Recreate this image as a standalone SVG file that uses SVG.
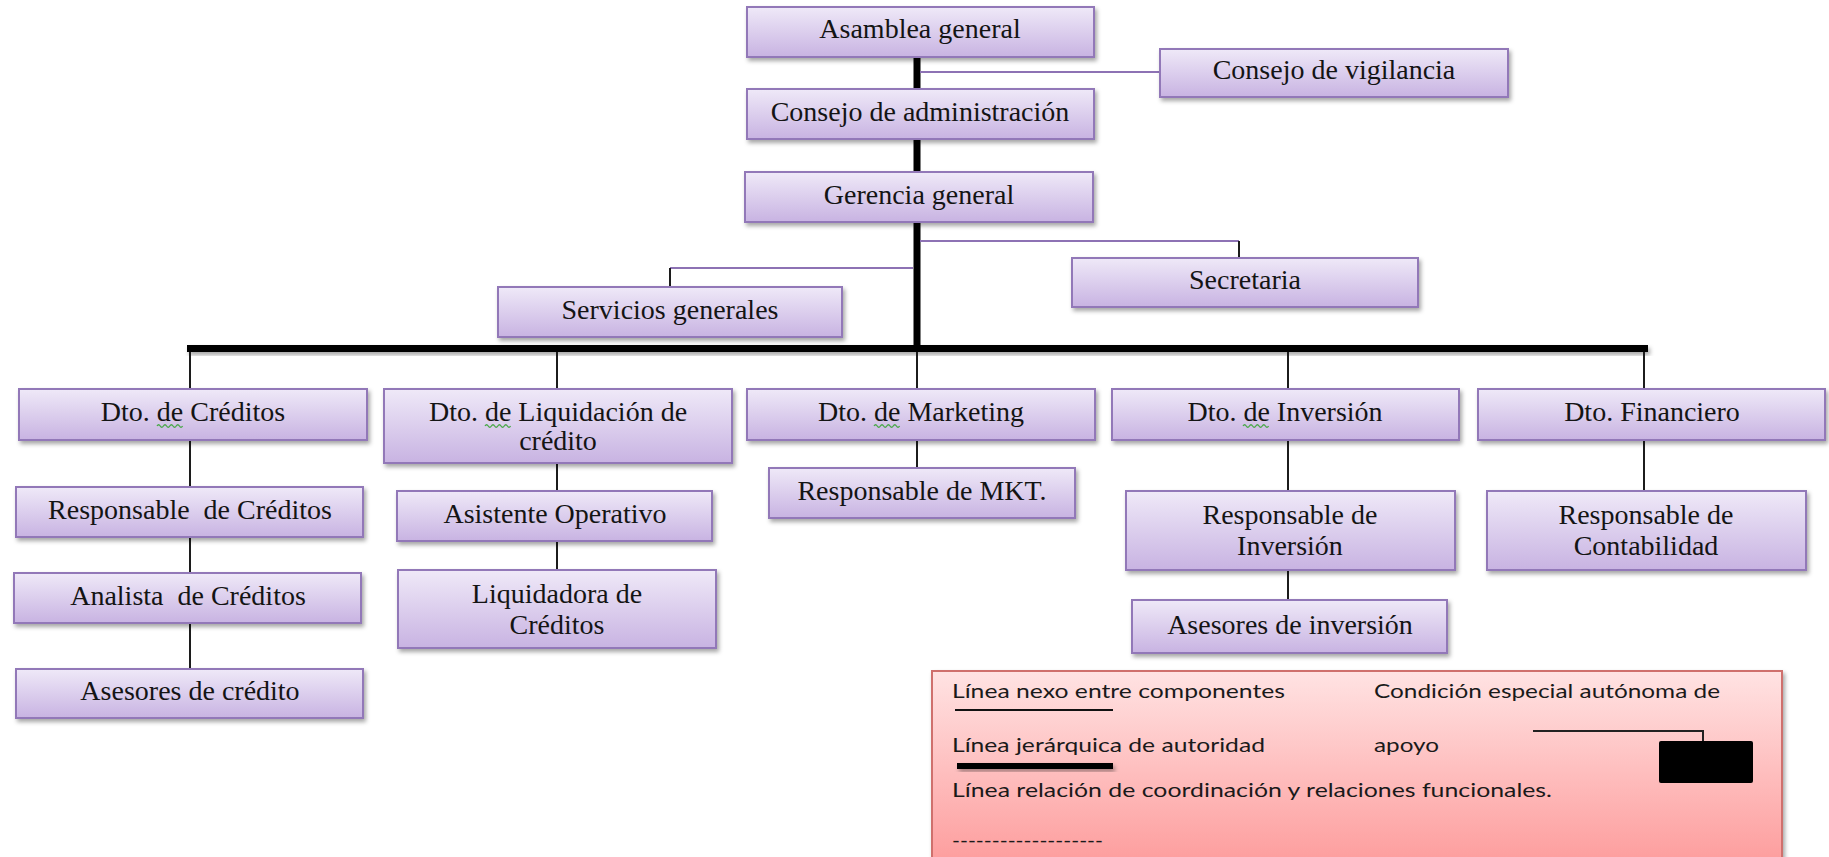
<svg xmlns="http://www.w3.org/2000/svg" width="1829" height="857" viewBox="0 0 1829 857">
<defs>
<linearGradient id="gBox" x1="0" y1="0" x2="0" y2="1">
<stop offset="0" stop-color="#efe9f8"/>
<stop offset="1" stop-color="#c8b3e2"/>
</linearGradient>
<linearGradient id="gLeg" x1="0" y1="0" x2="0" y2="1">
<stop offset="0" stop-color="#ffe3e3"/>
<stop offset="1" stop-color="#fd9a9a"/>
</linearGradient>
<filter id="sh" x="-10%" y="-50%" width="120%" height="200%">
<feDropShadow dx="2" dy="3" stdDeviation="2" flood-color="#000" flood-opacity="0.35"/>
</filter>
</defs>
<style>
.box{fill:url(#gBox);stroke:#9278b8;stroke-width:2;filter:url(#sh)}
.t{font-family:"Liberation Serif","Times New Roman",serif;font-size:28px;fill:#141414;text-anchor:middle;white-space:pre}
.wave{fill:none;stroke:#4aa84a;stroke-width:1.3}
.thick{stroke:#000;stroke-width:7;fill:none}
.thin{stroke:#1c1c1c;stroke-width:2;fill:none}
.purple{stroke:#8d72b4;stroke-width:2;fill:none}
.lt{font-family:Lato,"Liberation Sans",sans-serif;font-size:19px;fill:#1a1a1a}
</style>
<rect width="1829" height="857" fill="#fff"/>
<g id="connectors">
<line class="thick" x1="917" y1="57" x2="917" y2="349"/>
<rect x="187" y="345" width="1461" height="7" fill="#000" filter="url(#sh)"/>
<line class="purple" x1="920" y1="72" x2="1160" y2="72"/>
<line class="purple" x1="920" y1="241" x2="1239" y2="241"/>
<line class="thin" x1="1239" y1="241" x2="1239" y2="258"/>
<line class="purple" x1="913" y1="268" x2="670" y2="268"/>
<line class="thin" x1="670" y1="268" x2="670" y2="287"/>
<line class="thin" x1="190" y1="352" x2="190" y2="389"/>
<line class="thin" x1="557" y1="352" x2="557" y2="389"/>
<line class="thin" x1="917" y1="352" x2="917" y2="389"/>
<line class="thin" x1="1288" y1="352" x2="1288" y2="389"/>
<line class="thin" x1="1644" y1="352" x2="1644" y2="389"/>
<line class="thin" x1="190" y1="440" x2="190" y2="487"/>
<line class="thin" x1="190" y1="537" x2="190" y2="573"/>
<line class="thin" x1="190" y1="623" x2="190" y2="669"/>
<line class="thin" x1="557" y1="463" x2="557" y2="491"/>
<line class="thin" x1="557" y1="541" x2="557" y2="570"/>
<line class="thin" x1="917" y1="440" x2="917" y2="468"/>
<line class="thin" x1="1288" y1="440" x2="1288" y2="491"/>
<line class="thin" x1="1288" y1="570" x2="1288" y2="600"/>
<line class="thin" x1="1644" y1="440" x2="1644" y2="491"/>
</g>
<g id="asamblea"><rect class="box" x="747" y="7" width="347" height="50"/><text class="t" x="920" y="38">Asamblea general</text></g>
<g id="vigilancia"><rect class="box" x="1160" y="49" width="348" height="48"/><text class="t" x="1334" y="79">Consejo de vigilancia</text></g>
<g id="administracion"><rect class="box" x="747" y="89" width="347" height="50"/><text class="t" x="920" y="121">Consejo de administración</text></g>
<g id="gerencia"><rect class="box" x="745" y="172" width="348" height="50"/><text class="t" x="919" y="204">Gerencia general</text></g>
<g id="secretaria"><rect class="box" x="1072" y="258" width="346" height="49"/><text class="t" x="1245" y="289">Secretaria</text></g>
<g id="servicios"><rect class="box" x="498" y="287" width="344" height="50"/><text class="t" x="670" y="319">Servicios generales</text></g>
<g id="dto-creditos"><rect class="box" x="19" y="389" width="348" height="51"/><text class="t" x="193" y="421">Dto. de Créditos</text><path class="wave" d="M157,426 q1.6,-2.5 3.2,0 t3.2,0 t3.2,0 t3.2,0 t3.2,0 t3.2,0 t3.2,0 t3.2,0"/></g>
<g id="dto-liquidacion"><rect class="box" x="384" y="389" width="348" height="74"/><text class="t" x="558" y="421">Dto. de Liquidación de</text><text class="t" x="558" y="450">crédito</text><path class="wave" d="M485,426 q1.6,-2.5 3.2,0 t3.2,0 t3.2,0 t3.2,0 t3.2,0 t3.2,0 t3.2,0 t3.2,0"/></g>
<g id="dto-marketing"><rect class="box" x="747" y="389" width="348" height="51"/><text class="t" x="921" y="421">Dto. de Marketing</text><path class="wave" d="M874,426 q1.6,-2.5 3.2,0 t3.2,0 t3.2,0 t3.2,0 t3.2,0 t3.2,0 t3.2,0 t3.2,0"/></g>
<g id="dto-inversion"><rect class="box" x="1112" y="389" width="347" height="51"/><text class="t" x="1285" y="421">Dto. de Inversión</text><path class="wave" d="M1243,426 q1.6,-2.5 3.2,0 t3.2,0 t3.2,0 t3.2,0 t3.2,0 t3.2,0 t3.2,0 t3.2,0"/></g>
<g id="dto-financiero"><rect class="box" x="1478" y="389" width="347" height="51"/><text class="t" x="1652" y="421">Dto. Financiero</text></g>
<g id="resp-creditos"><rect class="box" x="16" y="487" width="347" height="50"/><text class="t" x="190" y="519">Responsable  de Créditos</text></g>
<g id="analista"><rect class="box" x="14" y="573" width="347" height="50"/><text class="t" x="188" y="605">Analista  de Créditos</text></g>
<g id="asesores-credito"><rect class="box" x="16" y="669" width="347" height="49"/><text class="t" x="190" y="700">Asesores de crédito</text></g>
<g id="asistente"><rect class="box" x="397" y="491" width="315" height="50"/><text class="t" x="555" y="523">Asistente Operativo</text></g>
<g id="liquidadora"><rect class="box" x="398" y="570" width="318" height="78"/><text class="t" x="557" y="603">Liquidadora de</text><text class="t" x="557" y="634">Créditos</text></g>
<g id="resp-mkt"><rect class="box" x="769" y="468" width="306" height="50"/><text class="t" x="922" y="500">Responsable de MKT.</text></g>
<g id="resp-inversion"><rect class="box" x="1126" y="491" width="329" height="79"/><text class="t" x="1290" y="524">Responsable de</text><text class="t" x="1290" y="555">Inversión</text></g>
<g id="asesores-inversion"><rect class="box" x="1132" y="600" width="315" height="53"/><text class="t" x="1290" y="634">Asesores de inversión</text></g>
<g id="resp-contabilidad"><rect class="box" x="1487" y="491" width="319" height="79"/><text class="t" x="1646" y="524">Responsable de</text><text class="t" x="1646" y="555">Contabilidad</text></g>
<g id="legend">
<rect x="932" y="671" width="850" height="200" fill="url(#gLeg)" stroke="#cf6f6d" stroke-width="2" filter="url(#sh)"/>
<text class="lt" x="952" y="698" textLength="333" lengthAdjust="spacingAndGlyphs">Línea nexo entre componentes</text>
<line x1="955" y1="710" x2="1113" y2="710" stroke="#111" stroke-width="2"/>
<text class="lt" x="952" y="752" textLength="313" lengthAdjust="spacingAndGlyphs">Línea jerárquica de autoridad</text>
<rect x="957" y="763" width="156" height="6" fill="#000" filter="url(#sh)"/>
<text class="lt" x="952" y="797" textLength="600" lengthAdjust="spacingAndGlyphs">Línea relación de coordinación y relaciones funcionales.</text>
<text class="lt" x="952" y="847" textLength="151" lengthAdjust="spacingAndGlyphs">-------------------</text>
<text class="lt" x="1374" y="698" textLength="346" lengthAdjust="spacingAndGlyphs">Condición especial autónoma de</text>
<text class="lt" x="1374" y="752" textLength="65" lengthAdjust="spacingAndGlyphs">apoyo</text>
<polyline points="1533,731 1703,731 1703,741" fill="none" stroke="#222" stroke-width="2"/>
<rect x="1659" y="741" width="94" height="42" rx="2" fill="#000"/>
</g>
</svg>
